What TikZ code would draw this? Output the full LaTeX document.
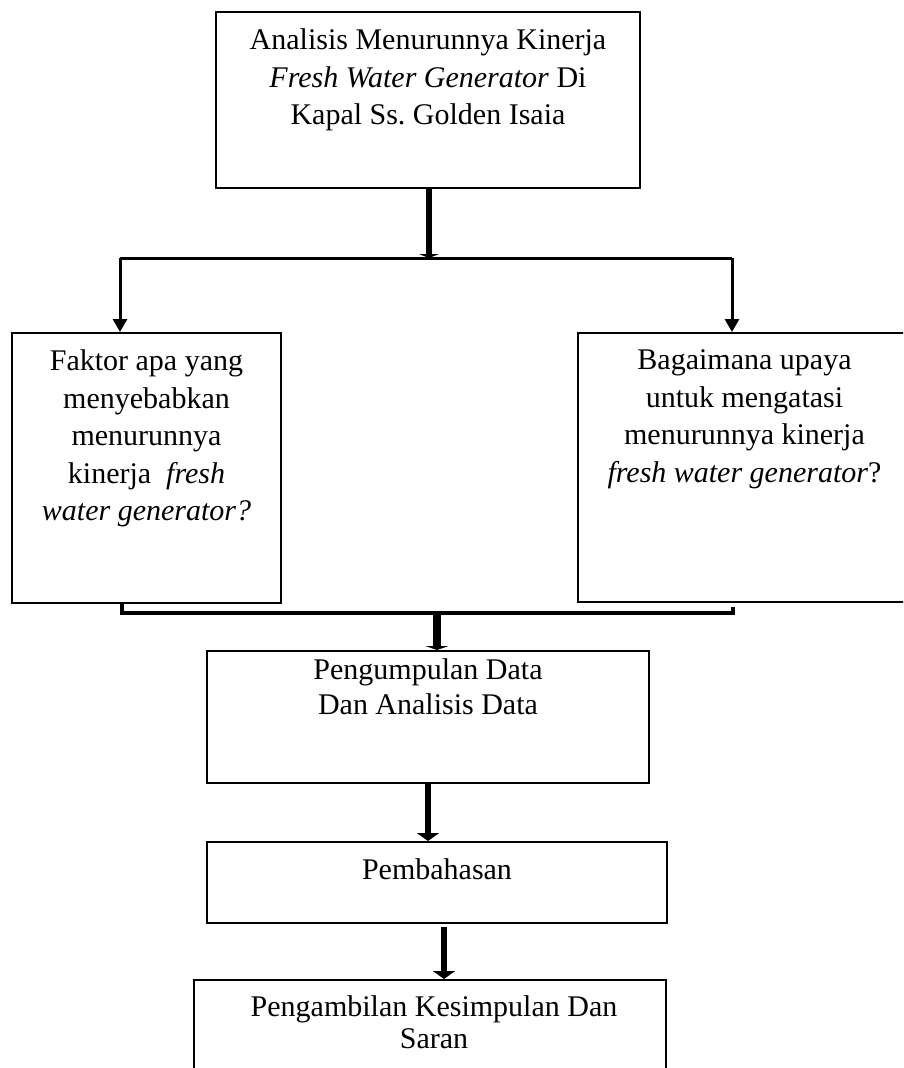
\documentclass[tikz,border=0pt]{standalone}
\usepackage{fontspec}
\setmainfont{Liberation Serif}
\usetikzlibrary{arrows.meta}
\frenchspacing

\tikzset{
  kotak/.style={draw, line width=2pt, rectangle, inner sep=0pt},
  teks/.style={anchor=north, align=center, inner sep=0pt, font=\fontsize{30}{37.5}\selectfont},
  garis/.style={line width=3pt},
  panah/.style={line width=3pt, -{Triangle[width=14pt,length=13pt]}},
  panahtebal/.style={line width=6.5pt, -{Triangle[width=22pt,length=8pt]}}
}

\begin{document}
\begin{tikzpicture}[x=1pt,y=-1pt]
  \useasboundingbox (0,0) rectangle (903,1068);
  \clip (0,0) rectangle (903,1068);

  \node[kotak, minimum width=424, minimum height=176,
    label={[teks,yshift=-17.5pt]north:{Analisis Menurunnya Kinerja\\
      \textit{Fresh Water Generator} Di\\ Kapal Ss.\ Golden Isaia}}] (judul) at (428,100) {};

  \node[kotak, minimum width=269, minimum height=270,
    label={[teks,yshift=-17.5pt]north:{Faktor apa yang\\ menyebabkan\\ menurunnya\\
      kinerja \ \textit{fresh}\\ \textit{water generator?}}}] (faktor) at (146.5,468) {};

  \node[kotak, minimum width=337, minimum height=269,
    label={[teks,yshift=-17.5pt,xshift=-2pt]north:{Bagaimana upaya\\ untuk mengatasi\\
      menurunnya kinerja\\ \textit{fresh water generator}?}}] (upaya) at (746.5,467.5) {};

  \node[kotak, minimum width=442, minimum height=132,
    label={[teks,yshift=-8.5pt,font=\fontsize{30}{35}\selectfont]north:{Pengumpulan Data\\
      Dan Analisis Data}}] (data) at (428,717) {};

  \node[kotak, minimum width=460, minimum height=81,
    label={[teks,yshift=-17.5pt]north:{Pembahasan}}] (bahas) at (437,882.5) {};

  \node[kotak, minimum width=472, minimum height=140,
    label={[teks,yshift=-16.5pt,xshift=4pt,font=\fontsize{30}{32}\selectfont]north:{Pengambilan Kesimpulan Dan\\
      Saran}}] (simpul) at (430,1050) {};

  \coordinate (cabang) at (429,258);
  \coordinate (kiri) at (120,258);
  \coordinate (kanan) at (732,258);
  \draw[garis] (kiri) -- (kanan);
  \draw[line width=6pt, -{Triangle[width=20pt,length=4pt]}] (judul.south -| cabang) -- (cabang);
  \draw[panah] (kiri) -- (kiri |- faktor.north);
  \draw[panah] (kanan) -- (kanan |- upaya.north);

  \coordinate (gabungkiri) at (122,613);
  \coordinate (gabungkanan) at (733,613);
  \coordinate (gabung) at (437,613);
  \draw[garis, line width=4pt] (faktor.south -| gabungkiri) -- (gabungkiri) -- (gabungkanan) -- ++(0,-6);
  \draw[line width=8pt, -{Triangle[width=23pt,length=4pt]}] (gabung) -- (gabung |- data.north);
  \draw[panahtebal] (data.south) -- (data.south |- bahas.north);
  \draw[panahtebal] ([xshift=7pt,yshift=-3pt]bahas.south) -- ([xshift=7pt]bahas.south |- simpul.north);
\end{tikzpicture}
\end{document}
